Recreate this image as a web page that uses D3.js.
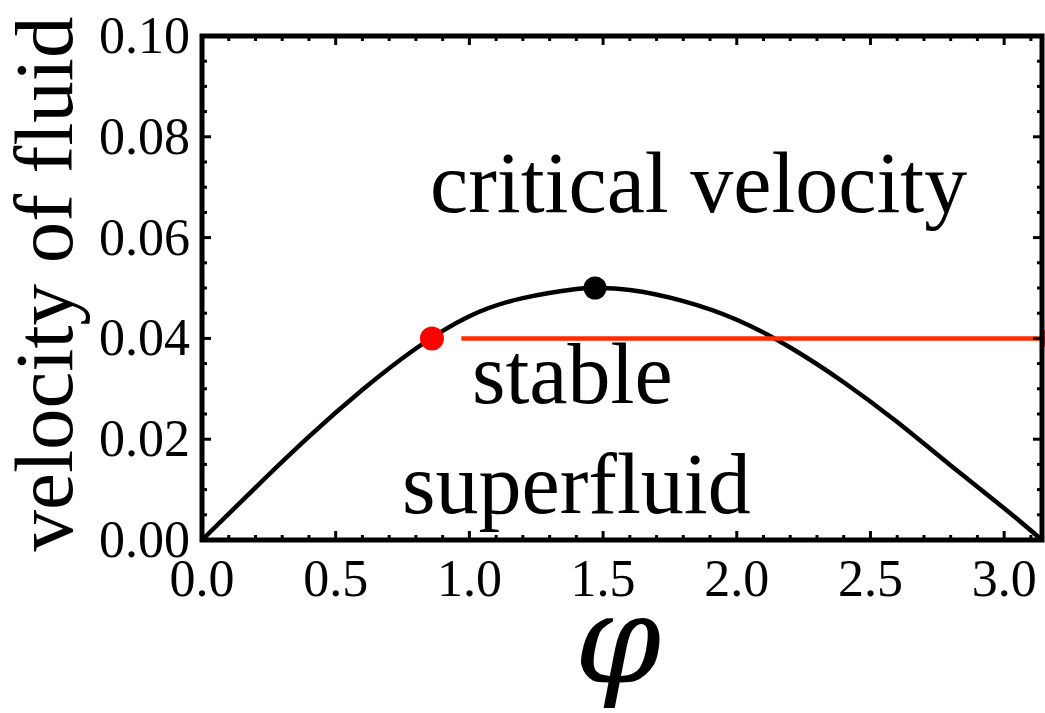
<!DOCTYPE html>
<html>
<head>
<meta charset="utf-8">
<script src="https://cdn.jsdelivr.net/npm/d3@7"></script>
<style>
  html, body { margin: 0; padding: 0; background: #fff; }
  svg { display: block; }
  text { font-family: "Liberation Serif", "Times New Roman", serif; fill: #000; }
</style>
</head>
<body>
<svg id="chart" width="1045" height="713"></svg>
<script>
// Critical velocity of the fluid as a function of phase phi
const phiValues = [0, 0.2, 0.4, 0.6, 0.8, 1.0, 1.2, 1.4, 1.47, 1.6, 1.8, 2.0, 2.2, 2.4, 2.6, 2.8, 3.0, Math.PI];
const velocityValues = [0, 0.0104, 0.0205, 0.0298, 0.0380, 0.0444, 0.0480, 0.0498, 0.0500, 0.0496, 0.0474, 0.0437, 0.0382, 0.0313, 0.0234, 0.0148, 0.0063, 0];

// Marked points: maximum (black) and chosen operating point (red)
const maxPoint = [1.47, 0.050];
const operatingPoint = [0.86, 0.040];

// Horizontal flow line at the operating velocity
const flowLineX = [0.97, 3.25];
const flowLineV = 0.040;

// Axis ticks
const xMajorTicks = [0, 0.5, 1.0, 1.5, 2.0, 2.5, 3.0];
const yMajorTicks = [0, 0.02, 0.04, 0.06, 0.08, 0.10];

const regionLabels = ["critical velocity", "stable", "superfluid"];

const svg = d3.select("#chart");
const plotLeft = 202, plotRight = 1042, plotTop = 36, plotBottom = 540;

const x = d3.scaleLinear().domain([0, Math.PI]).range([plotLeft, plotRight]);
const y = d3.scaleLinear().domain([0, 0.10]).range([plotBottom, plotTop]);

const xMinor = d3.range(0, 3.1416, 0.1).filter(t => Math.abs(t * 2 - Math.round(t * 2)) > 1e-6);
const yMinor = d3.range(0, 0.1001, 0.005).filter(t => Math.abs(t * 50 - Math.round(t * 50)) > 1e-6);

// Curve
const pts = phiValues.map((p, i) => [p, velocityValues[i]]);
const line = d3.line().x(d => x(d[0])).y(d => y(d[1])).curve(d3.curveNatural);
svg.append("path")
  .attr("d", line(pts))
  .attr("fill", "none")
  .attr("stroke", "#000")
  .attr("stroke-width", 4.5);

// Flow line with arrow head at the right
const red = "#ff2a00";
svg.append("line")
  .attr("x1", x(flowLineX[0])).attr("x2", x(flowLineX[1]))
  .attr("y1", y(flowLineV)).attr("y2", y(flowLineV))
  .attr("stroke", red).attr("stroke-width", 4.5);
{
  const bx = x(Math.PI), by = y(flowLineV);
  svg.append("path")
    .attr("d", `M${bx - 1},${by - 11} L${bx + 14},${by} L${bx - 1},${by + 11} L${bx + 3},${by} Z`)
    .attr("fill", red);
}

// Frame
svg.append("rect")
  .attr("x", plotLeft).attr("y", plotTop)
  .attr("width", plotRight - plotLeft).attr("height", plotBottom - plotTop)
  .attr("fill", "none").attr("stroke", "#000").attr("stroke-width", 5);

// Inward ticks on all four sides
function xticks(values, len) {
  values.forEach(t => {
    const px = x(t);
    svg.append("line").attr("x1", px).attr("x2", px).attr("y1", plotBottom).attr("y2", plotBottom - len)
      .attr("stroke", "#000").attr("stroke-width", 3);
    svg.append("line").attr("x1", px).attr("x2", px).attr("y1", plotTop).attr("y2", plotTop + len)
      .attr("stroke", "#000").attr("stroke-width", 3);
  });
}
function yticks(values, len) {
  values.forEach(t => {
    const py = y(t);
    svg.append("line").attr("x1", plotLeft).attr("x2", plotLeft + len).attr("y1", py).attr("y2", py)
      .attr("stroke", "#000").attr("stroke-width", 3);
    svg.append("line").attr("x1", plotRight).attr("x2", plotRight - len).attr("y1", py).attr("y2", py)
      .attr("stroke", "#000").attr("stroke-width", 3);
  });
}
xticks(xMajorTicks, 9);
xticks(xMinor, 5);
yticks(yMajorTicks, 9);
yticks(yMinor, 5);

// Tick labels
svg.append("g").selectAll("text").data(xMajorTicks).join("text")
  .attr("x", d => x(d)).attr("y", plotBottom + 56)
  .attr("text-anchor", "middle").attr("font-size", 52)
  .text(d3.format(".1f"));
svg.append("g").selectAll("text").data(yMajorTicks).join("text")
  .attr("x", plotLeft - 12).attr("y", d => y(d) + 17)
  .attr("text-anchor", "end").attr("font-size", 52)
  .text(d3.format(".2f"));

// Points
svg.append("circle").attr("cx", x(maxPoint[0])).attr("cy", y(maxPoint[1])).attr("r", 11.5).attr("fill", "#000");
svg.append("circle").attr("cx", x(operatingPoint[0])).attr("cy", y(operatingPoint[1])).attr("r", 12).attr("fill", "#ff0000");

// Region labels
svg.append("text").attr("x", 430).attr("y", 212).attr("font-size", 86).text(regionLabels[0]);
svg.append("text").attr("x", 472).attr("y", 403).attr("font-size", 86).text(regionLabels[1]);
svg.append("text").attr("x", 402).attr("y", 513).attr("font-size", 86).text(regionLabels[2]);

// Axis titles
svg.append("text")
  .attr("transform", "translate(72,284) rotate(-90)")
  .attr("text-anchor", "middle").attr("font-size", 83)
  .text("velocity of fluid");
svg.append("text")
  .attr("x", 618).attr("y", 682)
  .attr("text-anchor", "middle").attr("font-size", 124).attr("font-style", "italic")
  .style("font-family", "'DejaVu Serif', serif")
  .text("φ");
</script>
</body>
</html>
